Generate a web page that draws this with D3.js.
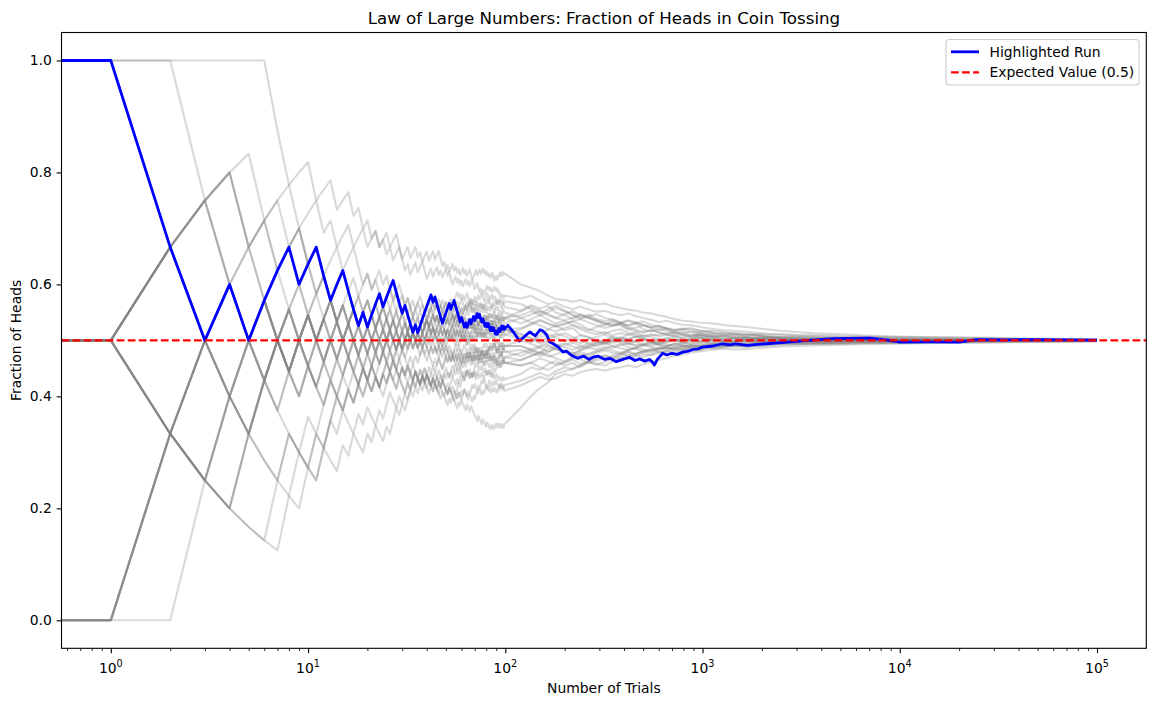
<!DOCTYPE html>
<html>
<head>
<meta charset="utf-8">
<script src="https://cdn.jsdelivr.net/npm/d3@7"></script>
<style>
  body { margin: 0; background: #fff; }
  text { font-family: "DejaVu Sans", sans-serif; }
</style>
</head>
<body>
<div id="chart"></div>
<script>
// Tick values
const yTicks = [0.0, 0.2, 0.4, 0.6, 0.8, 1.0];
const xTickExponents = [0, 1, 2, 3, 4, 5];

// Trial index of the later readings shared by all gray runs
const checkpointTrials = [120, 135, 150, 165, 180, 200, 220, 240, 265, 290,
    320, 350, 385, 420, 460, 500, 550, 600, 660, 720,
    790, 870, 950, 1050, 1150, 1300, 1450, 1650, 1850, 2100,
    2500, 3000, 3600, 4300, 5200, 6500, 8000, 10000, 13000, 17000,
    22000, 30000, 40000, 55000, 75000, 99999];

// First 100 tosses of each gray run
const grayTosses = [
    ['HHHHHHHTTT', 'TTHTTHTHTT', 'HTHHTHTTHT', 'HHTHTTHTHH', 'HTHTTHHTHT', 'HHTHTHHTHT', 'TTHTHTTHHT', 'HTHHTHTHHT', 'THHTHHTHTH', 'TTHHTTHTTH'],
    ['HHTHHTHHTH', 'THTTHHTHTH', 'HTHTTHHTHH', 'TTHTHTHHTT', 'HHTHTHTHHT', 'HTHHTHHHTH', 'THTHHTTHTH', 'HTHHTHHTTH', 'HHTTHHTHTH', 'TTHTHTTHHT'],
    ['HHHTTTHTHT', 'TTHHTHTTTH', 'THHTHTTHTT', 'HTHTTHTHTH', 'TTHTHTTHTH', 'HTTHHTHTTH', 'HHTHTHTHHT', 'THTTHTHTTH', 'HTHTHTTHHT', 'THHTHHTHHT'],
    ['TTTHHHTHHT', 'HTHHTTHHTH', 'HTTHHTHTHH', 'THTTHHTHTH', 'THHTTHTHHT', 'HTHHTTHHTH', 'TTHTHTHTTH', 'HHTTHHTHTH', 'HTHHTHTHTH', 'THTHTHHTTH'],
    ['TTHHTTHHTH', 'TTHTHTHTTH', 'TTHTHHTTHT', 'HTTHTHTTHT', 'HTTHTTHTHT', 'TTHTHTTHHT', 'HHTHHTTHTH', 'THTHHTHTTH', 'TTHTTHTTHT', 'HTTHTTHTHT'],
    ['TTHHHTHTHH', 'THHTTHTHHT', 'HTHTHHTHTT', 'HHTHTTHTHH', 'THHTHHTHTH', 'HTTHTHHTHT', 'HTHHTHHTTH', 'TTHTHTTHHT', 'HTHTTHTHTH', 'THHTHTTHTH'],
    ['TTHTHTTTTT', 'HHTHHTHTHH', 'THTHHTHTTH', 'HTHHTHTTHT', 'THTTHTHTTH', 'HTHTHTTHHT', 'THHTHTHTTH', 'HHTHTHTHHT', 'HTTHHTHTHT', 'TTHTTHTTTH'],
    ['TTHTTHHTHT', 'HHTHTTHHTT', 'HTHTHHHTTH', 'THHTHTHHTH', 'HTTHTTHTTH', 'THHTHHTHHT', 'TTHHTTHTHT', 'HTHHTHTHTH', 'HHTHTHHTTH', 'TTHHTHTHTH'],
    ['HTTTTHHHTH', 'HTHHTHTHTT', 'HHTHTTHHTH', 'TTHHTHTHHT', 'HTHHTHTHTH', 'THTHHTTHTH', 'HHTHHTHHTH', 'THTHTHHTHT', 'HTTHTHTHHT', 'THHTTHTHTH'],
    ['THTTTTTTHH', 'THTHHTHTHH', 'TTHTHHTHTT', 'HTHTTHTTHT', 'THTTHTTHTT', 'TTHTHTTTHT', 'HTTTHTTHTT', 'TTTHTTTHTT', 'THTTTHTTHT', 'HTTHTTHTTH'],
    ['HTTTTTTHHT', 'HTHHTHHTHT', 'HHTHTTHTHH', 'THTHHTTHTH', 'THTHTTHTHT', 'HTTHTTHTHT', 'TTHTHHTTHT', 'HHTHTHHTTH', 'THTTHTHTTH', 'TTHTHTHTHT'],
    ['THTTTHTTHT', 'TTHTTHTHTT', 'HTHTTHTHHT', 'HTHHTHTHHT', 'TTHTHTTTHT', 'HTHTTTHTHT', 'THHTTHTHHT', 'HTTHTHHTHT', 'TTHHTTHTHT', 'HTTTHTTHTT'],
    ['HTHHTHTHHT', 'THHTHHTTHT', 'HTHTHTTHHT', 'HTHTTHTHTH', 'HHTHTHTHHT', 'THHTHTHHTH', 'HTHHHTHHTH', 'THTTHHTHTH', 'HHTHTTHHTH', 'HTHHTHTHTH'],
    ['THHHHTTHTH', 'HTTHTHHTTH', 'THTHHTTHTT', 'HTHTHTHHTT', 'HTHTHTTHTH', 'HHTHHTTHTH', 'TTHTTHTTHT', 'THTHTTHTHT', 'HTHHTHTHHT', 'THTHHTHTTH'],
    ['THHHHHTHHH', 'HTHHTHHTHT', 'HTHTHHTHHT', 'THHTHHTHTH', 'HTHHTHHTTH', 'THTHHTHTHT', 'HHTHTHHTTH', 'HHTHHTHHTH', 'THTHTHHTTH', 'HTHHHTHHTH'],
    ['HTHTHHHTHH', 'HHTHTHHTHH', 'THHTHTHTHH', 'TTHTHHTHHT', 'THHTHHTHTH', 'HTHTTHHTHT', 'HTHHTHTHHT', 'THHTTHTHTH', 'HHTHTHTHHT', 'HTHTTHTHTH'],
    ['THTHTTHTTT', 'TTHHTHTTHT', 'HTTHTHHTTH', 'THTHHTHTHT', 'HTTHTHHTTH', 'THTHTHTHHT', 'TTHTHTTHTH', 'HHTHHTHTTH', 'THTTHTTHHT', 'HTHTTHHTHT'],
    ['THHTTHTHTH', 'TTHTHHTHTH', 'THHTHTHTTH', 'HTHTHHTTHH', 'HTTHHTHTTH', 'TTHTHHTTHT', 'HHTHHHTHTH', 'THTHHTTHHT', 'HTHTTHHTTH', 'TTHTTHHTHT'],
    ['HTTHHTHTHT', 'HTTHTHTTHT', 'THTTHTHHTH', 'TTHTHTTHTH', 'THTHTHHTTH', 'HHTTHHTHTH', 'TTHTHTHTTH', 'HTHTTHTHTH', 'THHTTHTHTH', 'HTHHTHTHHT'],
    ['TTHHTHTHTH', 'HTTHHTHTTH', 'TTHTHHTHTH', 'THHTTHTHHT', 'HTHTHTTHHT', 'HHTHTTHHTH', 'THTTHHTHTH', 'HTTHTHHTTH', 'THHTHHTHTH', 'HTTHTHTHTH'],
    ['TTHHTTHTHT', 'HTTHTTHTHT', 'HHTTHTHTTH', 'TTHTHHTTHT', 'HTTHTHTTHT', 'THTHHTTHTH', 'HTTHHTHTTH', 'TTHTHTHTTH', 'HTHTHTTHHT', 'HHTHTHTHHT'],
    ['TTHHHTTHTH', 'HTHHTTHTHH', 'THTHTHHTTH', 'HTTHTHHTHT', 'THHTTHTHTH', 'TTHTHTTHTH', 'HTHTTHHTHT', 'HHTHHTTHTH', 'TTHTHHTTHT', 'THTTHTHTTH'],
    ['HTTTHHTHTH', 'THHTHTTHTH', 'HTTHHTHTHT', 'THTHTHHTTH', 'HHTHTHTHHT', 'THTHHTHTTH', 'HTHHTHTHTH', 'THHTHHTHHT', 'HTTHTHTHHT', 'HHTTHTHHTH'],
    ['THTTHTHHTT', 'HTTHTHTHTT', 'HTHTTHHTTH', 'TTHTHTHTTH', 'HTTHTTHTHT', 'TTHTTHTTHT', 'HTHTTTHTTH', 'THHTHTTHTH', 'HTTHTTHTHT', 'THTHHTHTTH'],
    ['HTHHHTHTHH', 'THTHHTHHTT', 'HTHHTHTTHT', 'HTHTTHHTHT', 'HTHHTHHTTH', 'THHTHTHHTH', 'HTTHTHHTHT', 'HTHHTHTHTH', 'THTHTHHTTH', 'HTHTTHTHHT'],
    ['THHTHTHTTH', 'HTHTHHTTHT', 'THTHHTHTTH', 'HHTTHTHTHT', 'TTHTHTHTTH', 'HTHTTHHTHT', 'THHTTHTHTH', 'HTTTHTHTTH', 'HTHHTHTHHT', 'TTHTHTTHHT'],
    ['HTHTTHHTHT', 'HTHHTTHTHH', 'TTHTHHTHTH', 'THTHHTTHTH', 'HTHHTHTHTH', 'THTHHTHTTH', 'HTHTTHHTHT', 'TTHTHTTHHT', 'HTHTHTTHTH', 'THHTTHTHTH'],
    ['THHHTTHTHT', 'HTTHTHHTTH', 'THTHTHTTHT', 'HTTHTHTHHT', 'HTHTHTTHHT', 'TTHTHTHTTH', 'HTTHHTHTTH', 'THTHTHHTHT', 'HTTHTTHTHT', 'THTHHTHTTH'],
    ['HHTTHTHTTH', 'THHTHTHHTT', 'HTHTTHTHHT', 'THHTHTTHTH', 'HHTHTTHHTH', 'THHTHHTHTH', 'HTTHTHTHHT', 'HHTTHHTHTH', 'TTHTHTTHTH', 'HTTHHTHTTH']
];

// Fraction of heads of each gray run at checkpointTrials
const grayLate = [
    [.505, .497, .51, .52, .527, .518, .522, .51, .506, .497, .50, .507, .503, .511, .507, .502, .498, .493, .497, .501, .498, .504, .506, .502, .504, .499, .497, .501, .503, .505, .503, .5, .4985, .4985, .4995, .501, .5025, .502, .501, .5, .4995, .4998, .5006, .5004, .4999, .5001],
    [.553, .563, .557, .562, .55, .545, .538, .545, .54, .536, .531, .526, .529, .52, .523, .527, .522, .518, .521, .514, .512, .516, .514, .511, .512, .509, .51, .511, .509, .508, .506, .5065, .5055, .505, .504, .505, .5045, .5035, .503, .5025, .502, .502, .5015, .5014, .501, .501],
    [.472, .48, .488, .492, .485, .479, .476, .483, .489, .494, .496, .49, .486, .483, .487, .491, .494, .497, .493, .49, .492, .488, .49, .492, .491, .494, .493, .492, .494, .495, .497, .496, .4955, .495, .4965, .497, .496, .4965, .497, .4975, .4976, .498, .4984, .4984, .4988, .4988],
    [.552, .56, .553, .545, .54, .547, .552, .545, .54, .534, .528, .535, .531, .526, .53, .52, .516, .521, .517, .512, .516, .51, .513, .509, .507, .51, .508, .506, .504, .503, .505, .503, .5035, .5015, .503, .502, .5005, .5012, .5015, .5008, .5004, .5009, .5006, .5003, .5004, .5003],
    [.44, .452, .447, .458, .463, .455, .46, .452, .462, .468, .472, .468, .474, .479, .475, .481, .485, .479, .482, .487, .484, .489, .491, .487, .485, .488, .49, .488, .49, .49, .492, .493, .4935, .4935, .494, .495, .495, .4955, .4958, .4962, .4965, .497, .4972, .4978, .498, .4985],
    [.54, .532, .527, .52, .516, .522, .527, .52, .514, .511, .515, .509, .513, .51, .514, .508, .511, .507, .51, .508, .505, .508, .51, .506, .505, .503, .504, .506, .504, .5045, .502, .503, .502, .5012, .5, .501, .5015, .501, .5005, .4998, .5003, .5006, .5002, .4999, .5002, .5001],
    [.465, .472, .478, .49, .484, .48, .474, .479, .475, .48, .485, .49, .493, .488, .484, .48, .483, .486, .49, .494, .491, .489, .493, .495, .493, .495, .496, .497, .4955, .496, .498, .4985, .4975, .4975, .499, .4985, .4995, .499, .4988, .4993, .4997, .4994, .4998, .4996, .4999, .4998],
    [.51, .503, .495, .5, .508, .513, .506, .5, .494, .49, .495, .5, .505, .501, .497, .492, .49, .495, .499, .501, .497, .494, .498, .5015, .4995, .4975, .499, .5005, .4995, .4985, .4995, .5004, .4999, .4996, .5001, .5003, .5, .4999, .4996, .5001, .5003, .5, .4999, .5001, .5, .4999],
    [.53, .538, .545, .537, .53, .535, .528, .523, .518, .524, .528, .532, .526, .52, .516, .514, .518, .515, .511, .508, .51, .506, .509, .507, .508, .506, .504, .503, .505, .5055, .5035, .502, .503, .5025, .5015, .5005, .5012, .5008, .5004, .5002, .5006, .5003, .4999, .5002, .5001, .5002],
    [.38, .40, .415, .425, .44, .445, .45, .455, .462, .458, .455, .462, .468, .475, .472, .471, .475, .48, .478, .483, .486, .483, .482, .486, .488, .49, .491, .489, .49, .4915, .4935, .4935, .4945, .495, .4945, .4955, .496, .4962, .4965, .497, .4975, .4976, .498, .4984, .4983, .4988],
    [.465, .472, .48, .474, .468, .462, .468, .475, .471, .478, .482, .478, .476, .483, .487, .492, .488, .485, .487, .484, .488, .491, .489, .493, .494, .4915, .493, .495, .497, .497, .4955, .4975, .4985, .498, .4975, .4988, .4992, .4986, .4989, .4992, .4996, .4993, .4996, .4998, .4997, .4998],
    [.42, .428, .435, .43, .432, .44, .437, .443, .447, .449, .446, .45, .452, .455, .452, .458, .461, .465, .468, .472, .475, .478, .48, .482, .484, .485, .484, .484, .486, .487, .489, .49, .491, .4915, .4925, .493, .4935, .494, .4948, .4953, .4958, .496, .4968, .4975, .498, .4984],
    [.565, .556, .548, .556, .562, .553, .546, .538, .543, .547, .54, .537, .532, .535, .53, .534, .528, .524, .522, .519, .521, .52, .518, .516, .517, .514, .513, .512, .511, .511, .51, .509, .508, .507, .506, .506, .5055, .505, .5045, .504, .5035, .503, .5025, .502, .5018, .5015],
    [.50, .494, .487, .48, .486, .492, .496, .49, .487, .492, .496, .5, .496, .493, .498, .501, .497, .5, .504, .501, .498, .502, .505, .502, .5, .502, .504, .502, .5, .501, .502, .501, .4995, .4995, .5005, .5015, .501, .5004, .5007, .5005, .5, .5003, .5004, .5001, .5003, .5003],
    [.60, .594, .588, .58, .574, .572, .569, .572, .567, .564, .566, .561, .558, .555, .553, .55, .548, .545, .542, .538, .535, .534, .532, .531, .53, .527, .526, .524, .522, .52, .517, .515, .513, .512, .511, .509, .508, .507, .506, .5055, .505, .5045, .5035, .503, .5022, .5017],
    [.575, .58, .571, .565, .568, .56, .556, .56, .555, .551, .553, .548, .545, .548, .543, .54, .537, .533, .535, .531, .528, .527, .525, .522, .52, .518, .517, .516, .514, .512, .511, .5095, .509, .5085, .508, .507, .5065, .506, .5055, .505, .5045, .504, .503, .5028, .5023, .502],
    [.455, .46, .468, .463, .457, .462, .47, .466, .46, .464, .468, .473, .477, .472, .476, .48, .478, .484, .487, .483, .482, .486, .489, .491, .488, .489, .491, .49, .492, .494, .4955, .494, .4945, .496, .4975, .4968, .4975, .498, .4985, .498, .4985, .4991, .4993, .4991, .4994, .4996],
    [.52, .528, .535, .53, .526, .53, .534, .528, .52, .516, .512, .517, .52, .514, .51, .506, .509, .51, .513, .516, .512, .508, .51, .511, .508, .508, .506, .5045, .506, .5055, .504, .5025, .503, .504, .5025, .502, .502, .5015, .501, .5012, .5008, .5006, .5006, .5005, .5004, .5003],
    [.49, .482, .476, .484, .49, .495, .489, .485, .491, .496, .5, .504, .501, .497, .5, .503, .499, .496, .5, .503, .499, .502, .506, .503, .5, .4985, .4975, .4995, .5, .499, .4975, .4995, .5005, .5, .499, .4995, .5005, .5, .4995, .5002, .5004, .4999, .5001, .5002, .5, .5],
    [.512, .505, .498, .505, .512, .508, .5, .495, .502, .506, .51, .505, .499, .503, .507, .504, .5, .503, .498, .5, .503, .499, .497, .5, .502, .5, .498, .5, .502, .501, .4995, .5005, .5015, .501, .5, .499, .4995, .5005, .5008, .5002, .4998, .5001, .5003, .5, .4999, .5001],
    [.455, .46, .452, .447, .455, .46, .466, .458, .463, .47, .474, .469, .476, .48, .476, .479, .483, .487, .484, .488, .491, .487, .485, .489, .492, .49, .493, .491, .493, .4945, .496, .4955, .497, .496, .4965, .4975, .497, .4978, .498, .4985, .4988, .499, .4992, .4991, .4993, .4995],
    [.49, .484, .49, .497, .493, .488, .483, .489, .494, .498, .493, .496, .5, .495, .491, .494, .497, .492, .489, .493, .495, .498, .5, .497, .495, .497, .4985, .5, .498, .497, .4985, .5, .499, .4985, .4995, .5005, .5, .4995, .4992, .4998, .5002, .5, .4998, .4997, .5, .4999],
    [.545, .552, .545, .55, .558, .552, .545, .54, .546, .538, .534, .538, .531, .527, .532, .528, .523, .526, .521, .518, .52, .516, .514, .517, .513, .511, .512, .509, .51, .507, .506, .505, .504, .5035, .5025, .503, .502, .5015, .502, .5015, .501, .5012, .5008, .5006, .5005, .5004],
    [.428, .435, .442, .436, .445, .452, .448, .455, .461, .457, .462, .466, .47, .466, .472, .476, .473, .478, .481, .478, .483, .486, .483, .487, .489, .49, .489, .492, .491, .493, .494, .495, .4945, .496, .4955, .497, .4965, .4975, .4978, .498, .4982, .4986, .4988, .499, .4992, .4993],
    [.54, .546, .553, .547, .54, .536, .541, .547, .542, .536, .53, .526, .531, .536, .532, .527, .523, .526, .521, .517, .52, .522, .518, .515, .512, .514, .511, .509, .51, .507, .505, .506, .5045, .504, .5035, .504, .503, .5025, .502, .5018, .5015, .5012, .501, .5008, .5006, .5006],
    [.483, .477, .472, .479, .486, .481, .476, .482, .487, .484, .489, .486, .492, .495, .49, .493, .496, .492, .49, .494, .496, .493, .495, .498, .496, .4975, .496, .498, .4985, .4975, .4985, .4995, .499, .4985, .4995, .4998, .4992, .4996, .5, .4997, .4995, .4998, .5, .4998, .4999, .4999],
    [.505, .498, .505, .511, .505, .498, .503, .509, .505, .5, .496, .5, .505, .502, .506, .509, .505, .501, .504, .507, .504, .5, .503, .506, .504, .502, .503, .5045, .503, .502, .5005, .5015, .502, .501, .5005, .501, .5015, .501, .5004, .5006, .5002, .5004, .5003, .5001, .5002, .5002],
    [.478, .484, .477, .471, .475, .482, .478, .472, .476, .481, .485, .482, .478, .483, .487, .484, .481, .485, .488, .486, .489, .492, .489, .491, .494, .492, .494, .493, .495, .496, .495, .497, .4965, .4975, .4985, .498, .4985, .499, .4988, .4993, .4996, .4994, .4997, .4998, .4996, .4997],
    [.522, .53, .537, .53, .524, .529, .534, .538, .532, .527, .522, .526, .53, .524, .519, .515, .518, .514, .51, .513, .51, .507, .51, .508, .506, .507, .505, .5045, .503, .5035, .5025, .502, .5015, .5025, .502, .5015, .501, .5005, .5008, .501, .5006, .5005, .5004, .5002, .5003, .5002]
];

// Highlighted run: first 100 tosses, then readings of the blue line
const blueTosses = ['HHTTHTHHHT', 'HHTTHHTTTH', 'THHHTHHHTT', 'THTTTHTHHH', 'HHHTHTTTTH',
    'HHHTHHTTTT', 'HTTHTHHTHH', 'THHTHTTHTT', 'HTHTTHTHTT', 'HTHHTHHTHT'];
const blueLateTrials = [103, 110, 118, 126, 133, 142, 150, 155, 162, 168,
    175, 186, 196, 204, 215, 233, 250, 265, 278, 295,
    320, 340, 365, 395, 426, 455, 480, 510, 537, 555,
    570, 590, 628, 660, 700, 745, 794, 850, 900, 950,
    1000, 1130, 1264, 1380, 1478, 1690, 1900, 2100, 2700, 3480,
    4570, 5500, 7040, 8500, 10000, 14000, 20000, 24400, 35000, 48000,
    70000, 99999];
const blueLateValues = [.527, .515, .499, .508, .515, .508, .519, .517, .51, .497,
    .494, .488, .479, .481, .474, .468, .472, .466, .47, .472,
    .466, .468, .462, .466, .47, .464, .467, .463, .466, .462,
    .456, .466, .477, .474, .477, .475, .479, .481, .484, .485,
    .488, .49, .494, .492, .494, .491, .493, .494, .497, .5,
    .503, .5035, .504, .501, .497, .4975, .497, .5015, .501, .5015,
    .5008, .5005];

const expectedValue = 0.5;

const width = 1156;
const height = 706;
const plot = { left: 61.5, right: 1146.3, top: 32.5, bottom: 648.3 };
const pt = 100 / 72; // matplotlib points to pixels at 100 dpi

const svg = d3.select('#chart')
    .append('svg')
    .attr('width', width)
    .attr('height', height)
    .style('background', '#fff');

const x = d3.scaleLog()
    .domain([Math.pow(10, -0.25), Math.pow(10, 5.25)])
    .range([plot.left, plot.right]);

const y = d3.scaleLinear()
    .domain([-0.05, 1.05])
    .range([plot.bottom, plot.top]);

function buildRun(tossBlocks, lateTrials, lateValues) {
    const tosses = tossBlocks.join('');
    const pts = [];
    let heads = 0;
    for (let i = 0; i < tosses.length; i++) {
        if (tosses[i] === 'H') heads++;
        if (i > 0) pts.push({ n: i, v: heads / (i + 1) });
    }
    lateTrials.forEach((n, j) => pts.push({ n, v: lateValues[j] }));
    // trial 0 lies at log(0): like matplotlib, carry the line off the left edge
    pts.unshift({ n: x.domain()[0] / 2, v: pts[0].v });
    return pts;
}

const grayRuns = grayTosses.map((t, i) => buildRun(t, checkpointTrials, grayLate[i]));
const blueRun = buildRun(blueTosses, blueLateTrials, blueLateValues);

svg.append('clipPath')
    .attr('id', 'plot-clip')
    .append('rect')
    .attr('x', plot.left)
    .attr('y', plot.top)
    .attr('width', plot.right - plot.left)
    .attr('height', plot.bottom - plot.top);

const line = d3.line()
    .x(d => x(d.n))
    .y(d => y(d.v));

const lines = svg.append('g').attr('clip-path', 'url(#plot-clip)');

lines.selectAll('path.gray')
    .data(grayRuns)
    .join('path')
    .attr('class', 'gray')
    .attr('d', line)
    .attr('fill', 'none')
    .attr('stroke', '#808080')
    .attr('stroke-opacity', 0.3)
    .attr('stroke-width', 1.5 * pt)
    .attr('stroke-linejoin', 'round');

lines.append('path')
    .datum(blueRun)
    .attr('d', line)
    .attr('fill', 'none')
    .attr('stroke', '#0000ff')
    .attr('stroke-width', 2 * pt)
    .attr('stroke-linejoin', 'round');

lines.append('line')
    .attr('x1', plot.left)
    .attr('x2', plot.right)
    .attr('y1', y(expectedValue))
    .attr('y2', y(expectedValue))
    .attr('stroke', '#ff0000')
    .attr('stroke-width', 1.5 * pt)
    .attr('stroke-dasharray', `${3.7 * 1.5 * pt},${1.6 * 1.5 * pt}`);

// X axis: major and minor log ticks
const xMajor = xTickExponents.map(e => Math.pow(10, e));
const xMinor = [];
for (let e = -1; e <= 4; e++) {
    for (let m = 2; m <= 9; m++) {
        const v = m * Math.pow(10, e);
        if (v >= x.domain()[0] && v <= x.domain()[1]) xMinor.push(v);
    }
}

const gxMinor = svg.append('g')
    .attr('transform', `translate(0,${plot.bottom})`)
    .call(d3.axisBottom(x).tickValues(xMinor).tickSize(2 * pt).tickFormat(''));
gxMinor.select('.domain').remove();
gxMinor.selectAll('.tick line').attr('stroke', '#000').attr('stroke-width', 0.6 * pt);

const gx = svg.append('g')
    .attr('transform', `translate(0,${plot.bottom})`)
    .call(d3.axisBottom(x).tickValues(xMajor).tickSize(3.5 * pt).tickFormat(''));
gx.select('.domain').remove();
gx.selectAll('.tick line').attr('stroke', '#000').attr('stroke-width', 0.8 * pt);

const xLabels = svg.append('g')
    .selectAll('text')
    .data(xTickExponents)
    .join('text')
    .attr('x', e => x(Math.pow(10, e)))
    .attr('y', 673)
    .attr('text-anchor', 'middle')
    .attr('font-size', 13.9)
    .attr('fill', '#000');
xLabels.append('tspan').text('10');
xLabels.append('tspan')
    .attr('dy', -5.6)
    .attr('font-size', 9.7)
    .text(e => e);

// Y axis
const gy = svg.append('g')
    .attr('transform', `translate(${plot.left},0)`)
    .call(d3.axisLeft(y).tickValues(yTicks).tickSize(3.5 * pt).tickPadding(3.5 * pt)
        .tickFormat(d3.format('.1f')));
gy.select('.domain').remove();
gy.selectAll('.tick line').attr('stroke', '#000').attr('stroke-width', 0.8 * pt);
gy.selectAll('.tick text')
    .attr('font-size', 13.9)
    .attr('font-family', '"DejaVu Sans", sans-serif')
    .attr('fill', '#000');

// Frame
svg.append('rect')
    .attr('x', plot.left)
    .attr('y', plot.top)
    .attr('width', plot.right - plot.left)
    .attr('height', plot.bottom - plot.top)
    .attr('fill', 'none')
    .attr('stroke', '#000')
    .attr('stroke-width', 0.8 * pt);

// Titles
const midX = (plot.left + plot.right) / 2;
svg.append('text')
    .attr('x', midX)
    .attr('y', 24)
    .attr('text-anchor', 'middle')
    .attr('font-size', 16.67)
    .text('Law of Large Numbers: Fraction of Heads in Coin Tossing');

svg.append('text')
    .attr('x', midX)
    .attr('y', 693)
    .attr('text-anchor', 'middle')
    .attr('font-size', 13.9)
    .text('Number of Trials');

svg.append('text')
    .attr('transform', `translate(21,${(plot.top + plot.bottom) / 2}) rotate(-90)`)
    .attr('text-anchor', 'middle')
    .attr('font-size', 13.9)
    .text('Fraction of Heads');

// Legend
const legend = svg.append('g');
legend.append('rect')
    .attr('x', 946)
    .attr('y', 39.5)
    .attr('width', 193)
    .attr('height', 45.5)
    .attr('rx', 3)
    .attr('fill', '#fff')
    .attr('fill-opacity', 0.8)
    .attr('stroke', '#cccccc')
    .attr('stroke-width', 0.8 * pt);

const legendItems = [
    { label: 'Highlighted Run', color: '#0000ff', width: 2 * pt, dash: null },
    { label: 'Expected Value (0.5)', color: '#ff0000', width: 1.5 * pt, dash: `${3.7 * 1.5 * pt},${1.6 * 1.5 * pt}` }
];

legendItems.forEach((item, i) => {
    const cy = 51.8 + i * 20.6;
    legend.append('line')
        .attr('x1', 951)
        .attr('x2', 979)
        .attr('y1', cy)
        .attr('y2', cy)
        .attr('stroke', item.color)
        .attr('stroke-width', item.width)
        .attr('stroke-dasharray', item.dash);
    legend.append('text')
        .attr('x', 989.5)
        .attr('y', cy + 5)
        .attr('font-size', 13.9)
        .text(item.label);
});
</script>
</body>
</html>
